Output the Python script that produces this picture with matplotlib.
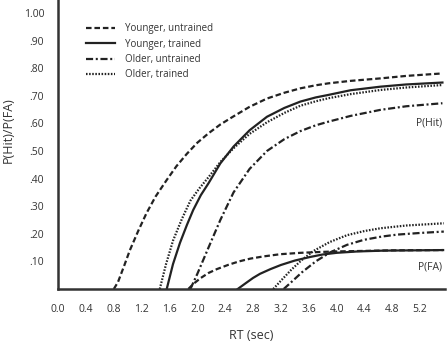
import matplotlib
matplotlib.use("Agg")
import matplotlib.pyplot as plt

plt.rcParams['font.family'] = ['Open Sans', 'DejaVu Sans']

# ---- data (RT in sec, probability) ----
yu_hit_x = [0.80, 0.86, 0.95, 1.03, 1.15, 1.27, 1.40, 1.56, 1.70, 1.85, 2.00, 2.16, 2.33, 2.51,
            2.75, 3.00, 3.25, 3.48, 3.70, 3.88, 4.20, 4.63, 5.00, 5.52]
yu_hit_y = [0.00, 0.025, 0.085, 0.14, 0.21, 0.275, 0.335, 0.395, 0.445, 0.49, 0.53, 0.564, 0.596, 0.624,
            0.66, 0.69, 0.711, 0.727, 0.738, 0.745, 0.754, 0.763, 0.772, 0.781]

yt_hit_x = [1.56, 1.65, 1.75, 1.85, 1.94, 2.05, 2.16, 2.33, 2.52, 2.75, 3.00, 3.25, 3.48, 3.70,
            3.88, 4.20, 4.63, 5.00, 5.52]
yt_hit_y = [0.00, 0.09, 0.167, 0.232, 0.286, 0.34, 0.383, 0.455, 0.516, 0.575, 0.624, 0.656, 0.679, 0.694,
            0.703, 0.72, 0.733, 0.741, 0.748]

ou_hit_x = [1.90, 2.00, 2.16, 2.33, 2.52, 2.75, 3.00, 3.25, 3.48, 3.70, 3.88, 4.20, 4.63, 5.00, 5.52]
ou_hit_y = [0.00, 0.055, 0.15, 0.25, 0.35, 0.435, 0.50, 0.543, 0.572, 0.593, 0.606, 0.627, 0.649, 0.662, 0.673]

ot_hit_x = [1.46, 1.55, 1.65, 1.78, 1.90, 2.03, 2.16, 2.33, 2.52, 2.75, 3.00, 3.25, 3.48, 3.70,
            3.88, 4.20, 4.63, 5.00, 5.52]
ot_hit_y = [0.00, 0.09, 0.175, 0.255, 0.32, 0.365, 0.405, 0.46, 0.51, 0.562, 0.604, 0.638, 0.664, 0.68,
            0.691, 0.706, 0.721, 0.73, 0.739]

yu_fa_x = [1.87, 1.95, 2.05, 2.16, 2.28, 2.45, 2.60, 2.76, 2.95, 3.19, 3.48, 3.75, 4.00, 4.40, 4.80, 5.53]
yu_fa_y = [0.00, 0.02, 0.04, 0.058, 0.072, 0.088, 0.10, 0.11, 0.118, 0.126, 0.131, 0.134, 0.136, 0.138, 0.14, 0.141]

yt_fa_x = [2.58, 2.70, 2.80, 2.90, 3.05, 3.20, 3.40, 3.62, 3.80, 4.00, 4.30, 4.68, 5.10, 5.53]
yt_fa_y = [0.00, 0.022, 0.04, 0.055, 0.072, 0.087, 0.103, 0.116, 0.125, 0.131, 0.136, 0.139, 0.14, 0.141]

ou_fa_x = [3.24, 3.35, 3.50, 3.70, 3.91, 4.15, 4.39, 4.65, 4.87, 5.20, 5.54]
ou_fa_y = [0.00, 0.025, 0.06, 0.10, 0.133, 0.16, 0.178, 0.19, 0.197, 0.203, 0.208]

ot_fa_x = [3.09, 3.20, 3.35, 3.50, 3.67, 3.90, 4.15, 4.40, 4.63, 5.00, 5.54]
ot_fa_y = [0.00, 0.03, 0.07, 0.105, 0.138, 0.17, 0.195, 0.21, 0.22, 0.23, 0.238]

labels = ["Younger, untrained", "Younger, trained", "Older, untrained", "Older, trained"]

x_ticks = [0.0, 0.4, 0.8, 1.2, 1.6, 2.0, 2.4, 2.8, 3.2, 3.6, 4.0, 4.4, 4.8, 5.2]
x_tick_labels = ["0.0", "0.4", "0.8", "1.2", "1.6", "2.0", "2.4", "2.8", "3.2", "3.6", "4.0", "4.4", "4.8", "5.2"]
y_ticks = [0.1, 0.2, 0.3, 0.4, 0.5, 0.6, 0.7, 0.8, 0.9, 1.0]
y_tick_labels = [".10", ".20", ".30", ".40", ".50", ".60", ".70", ".80", ".90", "1.00"]

# ---- figure ----
fig = plt.figure(figsize=(4.47, 3.42), dpi=100)
ax = fig.add_axes([0.130, 0.155, 0.866, 0.845])

c = "#222222"
lw = 1.6
styles = [
    dict(linestyle=(0, (2.5, 1.3)), color=c, lw=lw),
    dict(linestyle="-", color=c, lw=lw),
    dict(linestyle=(0, (3.2, 1.2, 0.9, 1.2)), color=c, lw=lw),
    dict(linestyle=(0, (0.7, 0.7)), color=c, lw=lw),
]

series = [
    (yu_hit_x, yu_hit_y, yu_fa_x, yu_fa_y),
    (yt_hit_x, yt_hit_y, yt_fa_x, yt_fa_y),
    (ou_hit_x, ou_hit_y, ou_fa_x, ou_fa_y),
    (ot_hit_x, ot_hit_y, ot_fa_x, ot_fa_y),
]

handles = []
for (hx, hy, fx, fy), st, lab in zip(series, styles, labels):
    h, = ax.plot(hx, hy, label=lab, solid_joinstyle="round", dash_joinstyle="round", **st)
    ax.plot(fx, fy, solid_joinstyle="round", dash_joinstyle="round", **st)
    handles.append(h)

ax.set_xlim(0, 5.56)
ax.set_ylim(0, 1.047)
ax.set_xticks(x_ticks)
ax.set_xticklabels(x_tick_labels)
ax.set_yticks(y_ticks)
ax.set_yticklabels(y_tick_labels)
ax.tick_params(axis='both', length=0, labelsize=7.5, colors="#333333")
ax.tick_params(axis='x', pad=11)
ax.tick_params(axis='y', pad=10)

for s in ["top", "right"]:
    ax.spines[s].set_visible(False)
for s in ["left", "bottom"]:
    ax.spines[s].set_linewidth(1.8)
    ax.spines[s].set_color("#333333")

ax.set_xlabel("RT (sec)", fontsize=9, color="#333333", labelpad=10)
ax.set_ylabel("P(Hit)/P(FA)", fontsize=9, color="#333333")
ax.yaxis.set_label_coords(-0.112, 0.55)

ax.text(5.52, 0.60, "P(Hit)", ha="right", va="center", fontsize=7.5, color="#333333")
ax.text(5.52, 0.08, "P(FA)", ha="right", va="center", fontsize=7.5, color="#333333")

leg = ax.legend(handles=handles, loc="upper left", bbox_to_anchor=(0.05, 0.95),
                frameon=False, fontsize=7, handlelength=3.0, handletextpad=1.0,
                labelspacing=0.45, labelcolor="#333333")

fig.savefig("out.png", dpi=100)
